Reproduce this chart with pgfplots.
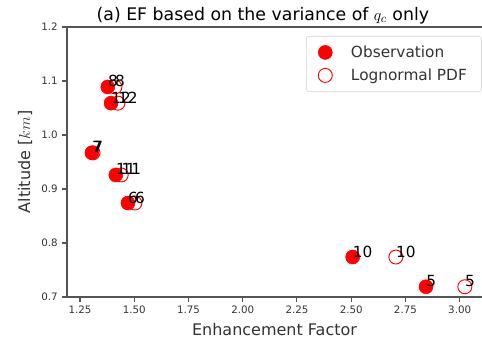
\documentclass[border=0pt]{standalone}
\usepackage{fontspec}
\setmainfont{DejaVu Sans}
\usepackage{pgfplots}
\pgfplotsset{compat=1.18}
\definecolor{spine}{HTML}{555555}
\definecolor{ticklab}{HTML}{333333}
\begin{document}
\begin{tikzpicture}
\begin{axis}[
  name=ax,
  scale only axis,
  width=311.25pt, height=202.5pt,
  xmin=1.19, xmax=3.103,
  ymin=0.7, ymax=1.2,
  axis x line*=box, axis y line*=left,
  axis line style={spine, line width=0.8pt},
  x axis line style={-}, y axis line style={-},
  xtick={1.25,1.5,1.75,2,2.25,2.5,2.75,3},
  ytick={0.7,0.8,0.9,1.0,1.1,1.2},
  xtick pos=bottom, ytick pos=left,
  tick align=outside,
  major tick length=3.5pt,
  every tick/.style={spine, line width=0.8pt},
  /pgf/number format/assume math mode=true,
  x tick label style={/pgf/number format/.cd, fixed, fixed zerofill, precision=2, /tikz/.cd, font=\fontsize{7.7}{9}\selectfont, text=ticklab},
  y tick label style={/pgf/number format/.cd, fixed, fixed zerofill, precision=1, /tikz/.cd, font=\fontsize{7.7}{9}\selectfont, text=ticklab},
  xlabel={Enhancement Factor},
  ylabel={Altitude [$km$]},
  xlabel style={font=\fontsize{12}{14}\selectfont, text=ticklab},
  ylabel style={font=\fontsize{12}{14}\selectfont, text=ticklab},
  clip=false,
  legend style={at={(rel axis cs:0.576,1)}, anchor=north west, yshift=-6.75pt,
    draw=gray!35, rounded corners=2pt, font=\fontsize{11.5}{13}\selectfont,
    inner xsep=9pt, inner ysep=5pt, row sep=3pt, text=ticklab,
    /tikz/every odd column/.append style={column sep=12pt}},
  legend cell align=left,
]
\addplot[only marks, mark=*, mark size=5.25pt, draw=red, fill=red]
  coordinates {(1.378,1.089) (1.393,1.059) (1.305,0.967) (1.415,0.926) (1.471,0.874) (2.507,0.774) (2.845,0.719)};
\addlegendentry{Observation}
\addplot[only marks, mark=o, mark size=5.25pt, draw=red, line width=0.7pt]
  coordinates {(1.411,1.089) (1.425,1.059) (1.310,0.967) (1.440,0.926) (1.503,0.874) (2.706,0.774) (3.024,0.719)};
\addlegendentry{Lognormal PDF}
\addplot[draw=none, forget plot, nodes near coords, point meta=explicit symbolic,
  every node near coord/.append style={anchor=base west, inner sep=0pt, black, font=\fontsize{11.5}{13}\selectfont}]
  coordinates {(1.378,1.089)[8] (1.393,1.059)[12] (1.305,0.967)[7] (1.415,0.926)[11] (1.471,0.874)[6] (2.507,0.774)[10] (2.845,0.719)[5]
  (1.411,1.089)[8] (1.425,1.059)[12] (1.310,0.967)[7] (1.440,0.926)[11] (1.503,0.874)[6] (2.706,0.774)[10] (3.024,0.719)[5]};
\node[anchor=base, font=\fontsize{13}{15}\selectfont, inner sep=0pt] at (rel axis cs:0.472,1) [yshift=5pt] {(a) EF based on the variance of $q_c$ only};
\end{axis}
\pgfresetboundingbox
\path[use as bounding box] ([xshift=-50.25pt,yshift=-30.75pt]ax.south west) rectangle ([yshift=20.25pt]ax.north east);
\end{tikzpicture}
\end{document}
